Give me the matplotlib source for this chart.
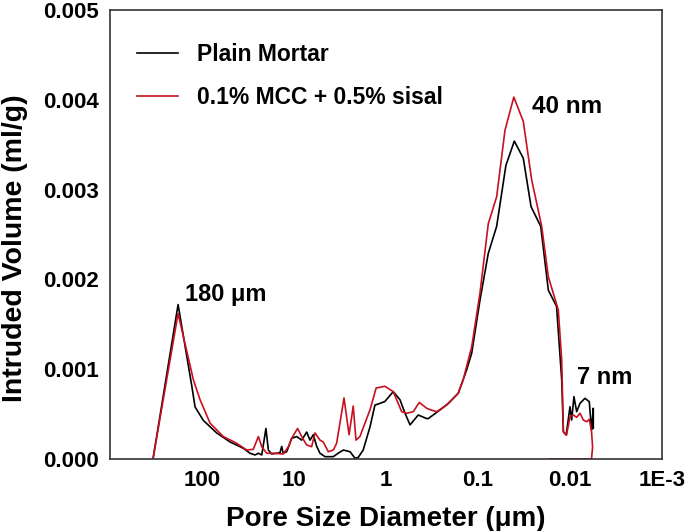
import numpy as np
import matplotlib
matplotlib.use('Agg')
import matplotlib.pyplot as plt

plt.rcParams['font.family'] = ['Liberation Sans', 'DejaVu Sans']
plt.rcParams['font.weight'] = 'bold'

# pore diameter (um) and intruded volume (ml/g)
plain_d = [341, 182, 129, 119, 96.8, 69.2, 49.6, 35.6, 30.1, 26.5, 24.4, 22.4, 20.2, 19.0,
           17.5, 14.2, 13.6, 13.1, 12.0, 10.6, 9.35, 8.25, 7.28, 6.70, 6.17, 5.66, 5.22,
           4.60, 3.74, 3.31, 2.91, 2.46, 2.17, 2.00, 1.77, 1.49, 1.32, 1.16, 1.03, 0.834,
           0.705, 0.621, 0.548, 0.446, 0.361, 0.347, 0.259, 0.210, 0.164, 0.133, 0.117,
           0.0951, 0.0773, 0.0627, 0.0497, 0.0403, 0.0322, 0.0265, 0.0208, 0.0172, 0.0140,
           0.0123, 0.0118, 0.0110, 0.0100, 0.00959, 0.00906, 0.00846, 0.00778, 0.00687,
           0.00617, 0.00591, 0.00583, 0.00558, 0.00558]
plain_v = [0, 0.00172, 0.00081, 0.00058, 0.00043, 0.00029, 0.00019, 0.00012, 0.000064,
           0.000045, 0.000064, 0.000045, 0.00034, 0.00010, 0.000056, 0.00007, 0.00014,
           0.000064, 0.000081, 0.00023, 0.00025, 0.00021, 0.00030, 0.00021, 0.00027,
           0.00014, 0.000064, 0.000026, 0.000026, 0.000064, 0.0001, 0.000081, 0.000008,
           0.000019, 0.0001, 0.00036, 0.00060, 0.00062, 0.00064, 0.00075, 0.00066, 0.00051,
           0.00038, 0.00049, 0.00045, 0.00045, 0.000546, 0.00062, 0.000732, 0.00099,
           0.00118, 0.00177, 0.00229, 0.00259, 0.00327, 0.00354, 0.00335, 0.00281, 0.00259,
           0.00188, 0.0017, 0.00088, 0.000304, 0.000267, 0.000582, 0.000434, 0.000694,
           0.000527, 0.00062, 0.000676, 0.000638, 0.000398, 0.000323, 0.000565, 0.000342]

mcc_d = [341, 182, 124, 105, 81.8, 58.7, 42.0, 32.7, 27.7, 24.4, 22.4, 19.8, 16.8, 13.1,
         11.5, 10.6, 9.14, 8.25, 7.28, 6.43, 5.91, 5.22, 4.81, 4.24, 3.74, 3.44, 2.86, 2.52,
         2.27, 2.12, 1.92, 1.49, 1.28, 1.03, 0.834, 0.676, 0.596, 0.505, 0.435, 0.361,
         0.333, 0.281, 0.219, 0.164, 0.145, 0.133, 0.117, 0.0951, 0.0773, 0.0627, 0.0509,
         0.0408, 0.0322, 0.0261, 0.0203, 0.0172, 0.0134, 0.0123, 0.0118, 0.0109, 0.0100,
         0.00921, 0.00846, 0.00778, 0.00716, 0.00658, 0.00617, 0.00583, 0.00568, 0.00583,
         0.0165]
mcc_v = [0, 0.00162, 0.00088, 0.00066, 0.00040, 0.00025, 0.000175, 0.0001, 0.000108,
         0.00025, 0.000137, 0.000064, 0.000064, 0.000056, 0.000137, 0.00023, 0.00034,
         0.00025, 0.000156, 0.000137, 0.00029, 0.00021, 0.00019, 0.000081, 0.0001,
         0.000175, 0.00068, 0.00027, 0.00059, 0.00021, 0.00025, 0.00055, 0.00079, 0.00081,
         0.00075, 0.000527, 0.000509, 0.000527, 0.00063, 0.000565, 0.00055, 0.000527,
         0.0006, 0.000732, 0.00088, 0.00103, 0.00125, 0.00185, 0.00262, 0.00292, 0.00366,
         0.00403, 0.00376, 0.00311, 0.00259, 0.00203, 0.00166, 0.0011, 0.0003, 0.000267,
         0.00047, 0.00049, 0.000464, 0.000509, 0.000434, 0.000415, 0.000442, 0.000304,
         0.000137, 0, 0]

x_ticks = [100, 10, 1, 0.1, 0.01, 0.001]
x_labels = ['100', '10', '1', '0.1', '0.01', '1E-3']
y_ticks = [0.000, 0.001, 0.002, 0.003, 0.004, 0.005]

fig = plt.figure(figsize=(6.85, 5.31), dpi=100)
ax = fig.add_axes([0.1606, 0.1356, 0.8058, 0.8456])

ax.plot(plain_d, plain_v, color='black', lw=1.2, label='Plain Mortar')
ax.plot(mcc_d, mcc_v, color='#c8101e', lw=1.2, label='0.1% MCC + 0.5% sisal')

ax.set_xscale('log')
ax.set_xlim(1000, 0.001)
ax.set_ylim(0, 0.005)
ax.set_xticks(x_ticks)
ax.set_xticklabels(x_labels)
ax.minorticks_off()
ax.set_yticks(y_ticks)
ax.set_yticklabels(['%.3f' % v for v in y_ticks])
ax.tick_params(length=0, labelsize=16, pad=8)
for lab in ax.get_xticklabels() + ax.get_yticklabels():
    lab.set_fontweight('bold')
for s in ax.spines.values():
    s.set_color('#333333')
    s.set_linewidth(1.2)

ax.set_xlabel('Pore Size Diameter (μm)', fontsize=20, fontweight='bold', labelpad=11)
ax.set_ylabel('Intruded Volume (ml/g)', fontsize=20.5, fontweight='bold')
ax.yaxis.set_label_coords(-0.148, 0.47)

ax.text(153, 0.00183, '180 μm', fontsize=17, fontweight='bold', ha='left', va='center')
ax.text(0.0259, 0.00392, '40 nm', fontsize=17.5, fontweight='bold', ha='left', va='center')
ax.text(0.0084, 0.000913, '7 nm', fontsize=17, fontweight='bold', ha='left', va='center')

leg = ax.legend(loc='upper left', frameon=False, fontsize=16.5, handlelength=1.8,
                handletextpad=0.8, labelspacing=0.9, borderpad=0,
                bbox_to_anchor=(0.028, 0.953))
for t in leg.get_texts():
    t.set_fontweight('bold')

fig.savefig('out.png', dpi=100)
